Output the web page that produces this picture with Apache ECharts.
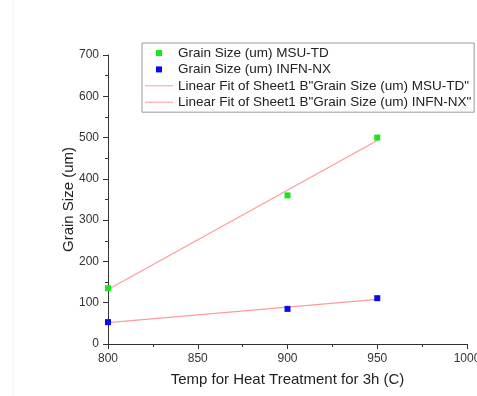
<!DOCTYPE html>
<html>
<head>
<meta charset="utf-8">
<script src="https://cdn.jsdelivr.net/npm/echarts@6/dist/echarts.min.js"></script>
<style>
  html, body { margin: 0; padding: 0; background: #fff; }
  #chart { width: 477px; height: 396px; }
</style>
</head>
<body>
<div id="chart"></div>
<script>
// measured points (temperature C, grain size um)
const temps = [800, 900, 950]
const msuTd = [135, 360, 500]
const infnNx = [53, 85, 111]
// linear fit end points
const fitTemps = [800, 950]
const msuFit = [132, 493]
const infnFit = [52, 108]

const names = [
  'Grain Size (um) MSU-TD',
  'Grain Size (um) INFN-NX',
  'Linear Fit of Sheet1 B"Grain Size (um) MSU-TD"',
  'Linear Fit of Sheet1 B"Grain Size (um) INFN-NX"'
]

const pairs = (xs, ys) => xs.map((x, i) => [x, ys[i]])

const font = 'Liberation Sans, Arial, sans-serif'
const axisCol = '#333'
const fitCol = '#ff9a9a'
const squareIcon = 'path://M0,0H6V6H0Z'
const lineIcon = 'path://M0,0H28V1H0Z'

const chart = echarts.init(document.getElementById('chart'), null, { renderer: 'canvas' })

chart.setOption({
  backgroundColor: '#fff',
  animation: false,
  textStyle: { fontFamily: font },
  grid: { left: 108, right: 10, top: 55, bottom: 52, outerBoundsMode: 'none', containLabel: false },
  legend: {
    left: 142,
    top: 43,
    orient: 'vertical',
    align: 'left',
    padding: [3, 3, 3, 3],
    itemWidth: 28,
    itemHeight: 6,
    itemGap: 2.4,
    borderColor: '#999',
    borderWidth: 1,
    textStyle: { fontSize: 13.5, color: '#222', fontFamily: font, lineHeight: 14 },
    data: [
      { name: names[0], icon: squareIcon },
      { name: names[1], icon: squareIcon },
      { name: names[2], icon: lineIcon },
      { name: names[3], icon: lineIcon }
    ]
  },
  xAxis: {
    type: 'value',
    min: 800,
    max: 1000,
    interval: 50,
    name: 'Temp for Heat Treatment for 3h (C)',
    nameLocation: 'middle',
    nameGap: 28,
    nameMoveOverlap: false,
    nameTextStyle: { fontSize: 15, color: '#222' },
    axisLine: { lineStyle: { color: axisCol, width: 1 } },
    axisTick: { length: 5, lineStyle: { color: axisCol } },
    minorTick: { show: true, splitNumber: 2, length: 3, lineStyle: { color: axisCol } },
    axisLabel: { fontSize: 12, color: axisCol, margin: 9, formatter: v => String(v) },
    splitLine: { show: false }
  },
  yAxis: {
    type: 'value',
    min: 0,
    max: 700,
    interval: 100,
    name: 'Grain Size (um)',
    nameLocation: 'middle',
    nameGap: 32,
    nameMoveOverlap: false,
    nameTextStyle: { fontSize: 15, color: '#222' },
    axisLine: { show: true, lineStyle: { color: axisCol, width: 1 } },
    axisTick: { show: true, length: 5, lineStyle: { color: axisCol } },
    minorTick: { show: true, splitNumber: 2, length: 3, lineStyle: { color: axisCol } },
    axisLabel: { fontSize: 12, color: axisCol, margin: 9 },
    splitLine: { show: false }
  },
  graphic: [
    { type: 'line', shape: { x1: 13, y1: 0, x2: 13, y2: 396 }, style: { stroke: '#f0f0f0', lineWidth: 1 }, silent: true }
  ],
  series: [
    {
      name: names[2],
      type: 'line',
      data: pairs(fitTemps, msuFit),
      symbol: 'none',
      lineStyle: { color: fitCol, width: 1.2 },
      itemStyle: { color: fitCol },
      z: 1
    },
    {
      name: names[3],
      type: 'line',
      data: pairs(fitTemps, infnFit),
      symbol: 'none',
      lineStyle: { color: fitCol, width: 1.2 },
      itemStyle: { color: fitCol },
      z: 1
    },
    {
      name: names[0],
      type: 'scatter',
      data: pairs(temps, msuTd),
      symbol: 'rect',
      symbolSize: 6,
      itemStyle: { color: '#1be51b', opacity: 1 },
      z: 3
    },
    {
      name: names[1],
      type: 'scatter',
      data: pairs(temps, infnNx),
      symbol: 'rect',
      symbolSize: 6,
      itemStyle: { color: '#0a0af0', opacity: 1 },
      z: 3
    }
  ]
})
</script>
</body>
</html>
